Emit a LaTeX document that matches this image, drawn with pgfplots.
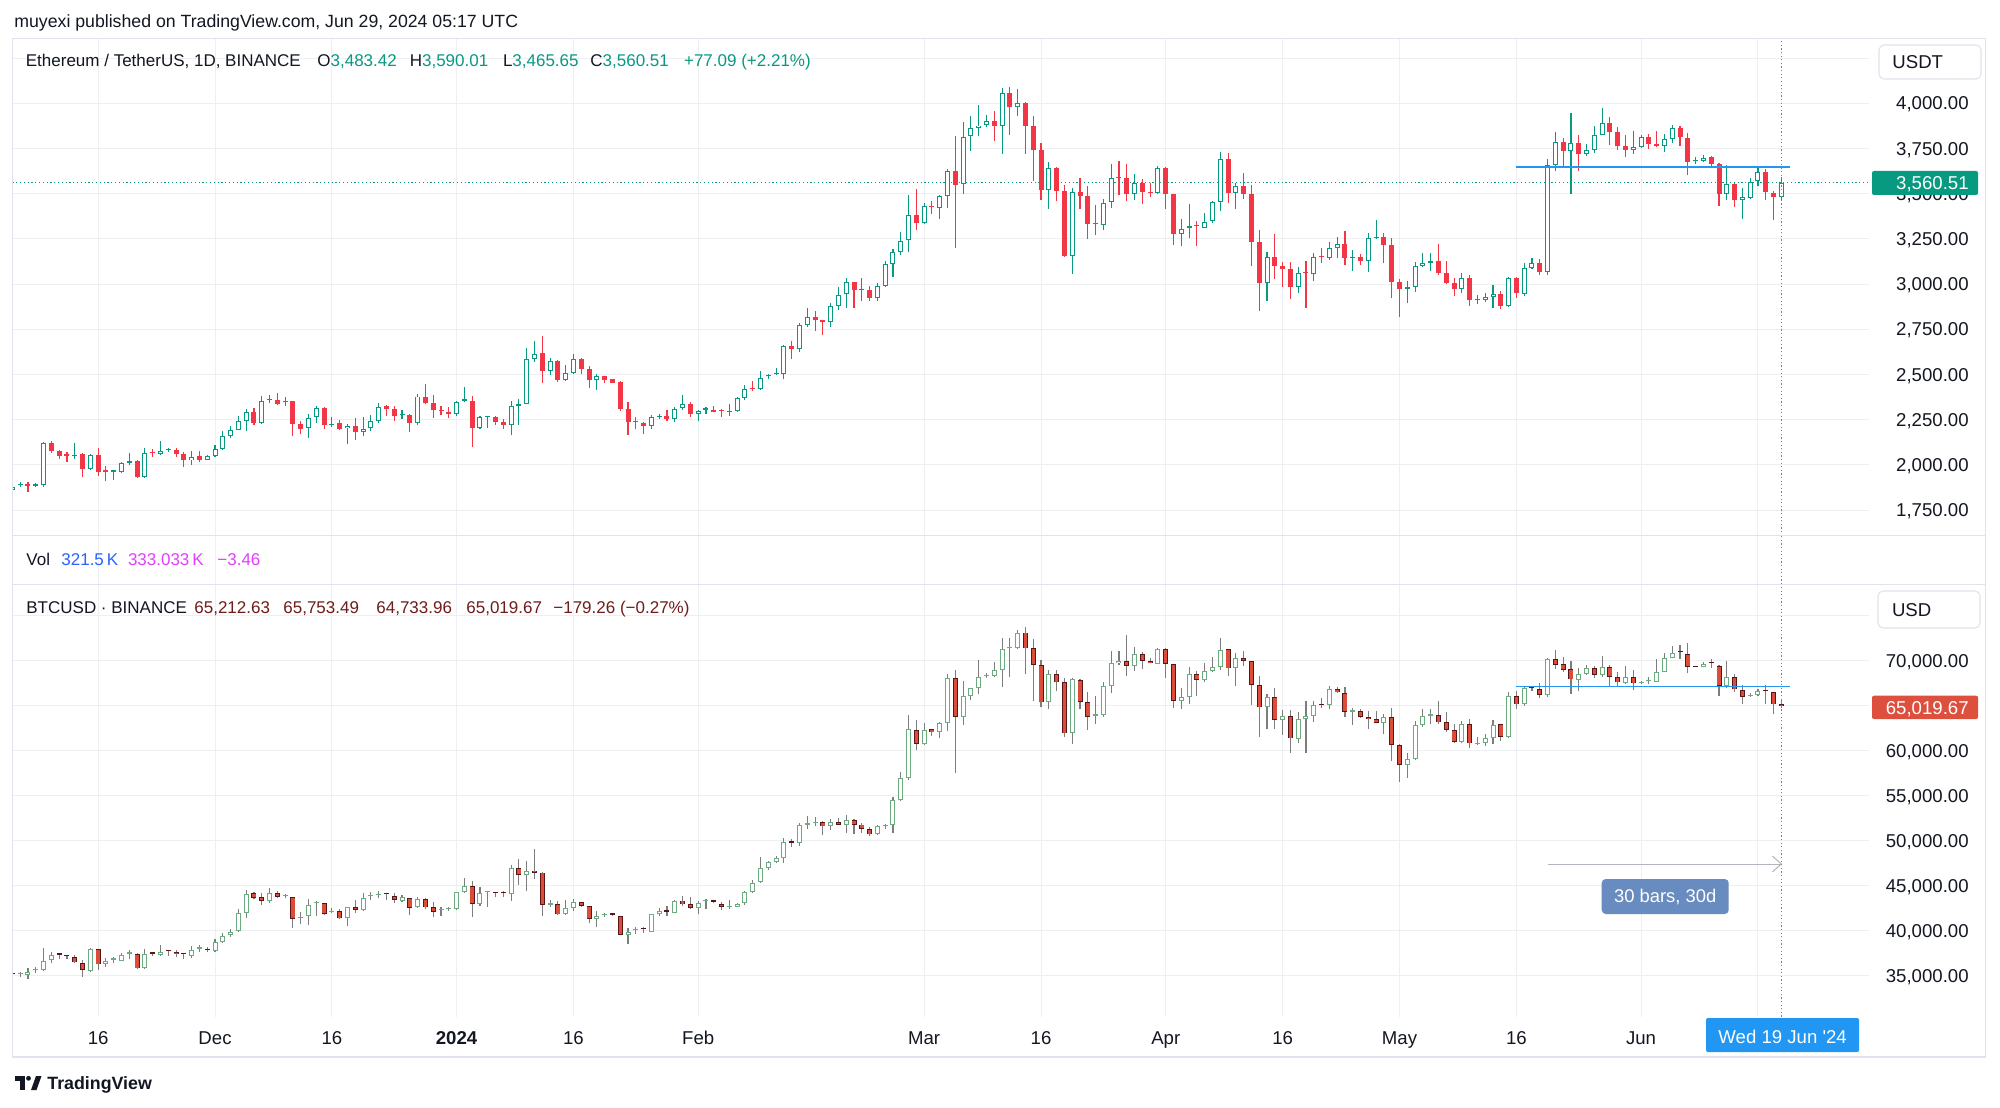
\documentclass[border=0pt]{standalone}
\usepackage{pgfplots}
\pgfplotsset{compat=1.18}
\usepackage{pgfplotstable}
\usepackage{fontspec}
\setmainfont{Liberation Sans}
\usetikzlibrary{arrows.meta}

\definecolor{tvtext}{HTML}{131722}
\definecolor{tvgrid}{RGB}{238,239,242}
\definecolor{tvframe}{RGB}{224,227,235}
\definecolor{ethup}{HTML}{089981}
\definecolor{ethdn}{HTML}{F23645}
\definecolor{btcup}{RGB}{108,172,128}
\definecolor{btcdn}{RGB}{221,76,56}
\definecolor{btcdnb}{RGB}{90,22,22}
\definecolor{btcwick}{RGB}{125,125,125}
\definecolor{tvblue}{HTML}{2196F3}
\definecolor{volblue}{HTML}{2962FF}
\definecolor{volmag}{HTML}{E040FB}
\definecolor{btchead}{RGB}{110,28,28}
\definecolor{measbox}{RGB}{104,139,192}
\definecolor{measline}{RGB}{178,181,190}
\definecolor{btclabel}{RGB}{221,80,62}

% ETH / USDT daily candles, d = days from 1 Jan 2024
\pgfplotstableread{
d O H L C
-57 1862 1885 1855 1880
-56 1888 1905 1880 1893
-55 1895 1905 1852 1885
-54 1885 1900 1875 1889
-53 1886 2125 1880 2120
-52 2120 2133 2065 2074
-51 2074 2082 2035 2050
-50 2059 2070 2015 2048
-49 2048 2120 2033 2052
-48 2059 2065 1935 1978
-47 1976 2060 1970 2055
-46 2055 2092 1941 1959
-45 1967 1991 1908 1963
-44 1963 1970 1917 1967
-43 1963 2015 1955 2009
-42 2009 2063 2000 2020
-41 2020 2025 1928 1930
-40 1930 2092 1925 2063
-39 2070 2089 2046 2063
-38 2061 2131 2055 2077
-37 2083 2092 2070 2085
-36 2083 2092 2041 2059
-35 2059 2070 1987 2024
-34 2024 2074 2000 2046
-33 2048 2074 2015 2028
-32 2028 2055 2024 2050
-31 2050 2111 2045 2087
-30 2087 2185 2083 2161
-29 2161 2216 2148 2194
-28 2194 2271 2190 2244
-27 2244 2308 2188 2290
-26 2290 2314 2221 2229
-25 2229 2382 2225 2354
-24 2358 2384 2341 2363
-23 2358 2400 2330 2336
-22 2345 2376 2323 2347
-21 2351 2355 2157 2225
-20 2225 2244 2170 2199
-19 2203 2280 2148 2258
-18 2264 2328 2231 2314
-17 2317 2320 2199 2221
-16 2221 2262 2212 2225
-15 2229 2247 2192 2197
-14 2203 2227 2116 2216
-13 2216 2258 2138 2179
-12 2181 2262 2157 2199
-11 2203 2277 2185 2240
-10 2240 2343 2231 2321
-9 2323 2332 2268 2308
-8 2308 2327 2245 2268
-7 2273 2301 2255 2277
-6 2273 2280 2183 2229
-5 2229 2391 2221 2378
-4 2378 2446 2338 2341
-3 2341 2384 2258 2301
-2 2301 2323 2273 2297
-1 2290 2320 2258 2280
0 2280 2352 2268 2349
1 2355 2432 2345 2358
2 2352 2381 2098 2206
3 2206 2270 2200 2265
4 2265 2270 2204 2270
5 2265 2268 2219 2237
6 2237 2252 2200 2219
7 2219 2354 2163 2326
8 2326 2366 2222 2335
9 2339 2644 2335 2583
10 2585 2686 2570 2614
11 2616 2714 2455 2518
12 2518 2590 2496 2575
13 2575 2580 2460 2468
14 2468 2551 2465 2509
15 2509 2612 2500 2583
16 2588 2592 2505 2529
17 2529 2548 2426 2468
18 2468 2500 2413 2489
19 2489 2492 2455 2468
20 2474 2476 2450 2453
21 2459 2463 2300 2307
22 2311 2348 2167 2237
23 2240 2263 2196 2237
24 2233 2237 2172 2215
25 2215 2274 2196 2265
26 2266 2283 2256 2268
27 2268 2305 2243 2256
28 2256 2320 2235 2311
29 2315 2385 2302 2335
30 2339 2345 2265 2283
31 2281 2306 2243 2298
32 2306 2318 2283 2311
33 2305 2326 2290 2293
34 2300 2311 2265 2298
35 2290 2335 2270 2293
36 2298 2375 2295 2370
37 2370 2440 2357 2420
38 2426 2463 2409 2418
39 2418 2520 2415 2483
40 2490 2505 2477 2492
41 2500 2537 2495 2505
42 2505 2663 2474 2659
43 2659 2686 2588 2640
44 2640 2786 2622 2773
45 2773 2866 2760 2819
46 2819 2853 2740 2801
47 2801 2801 2718 2788
48 2788 2893 2764 2879
49 2879 2984 2856 2942
50 2943 3032 2869 3010
51 3010 3014 2869 2967
52 2967 3036 2908 2971
53 2967 2991 2908 2921
54 2921 3008 2908 2991
55 2991 3125 2986 3110
56 3112 3195 3040 3176
57 3176 3287 3161 3239
58 3241 3491 3180 3380
59 3380 3526 3300 3337
60 3337 3448 3330 3430
61 3430 3458 3390 3426
62 3421 3490 3362 3487
63 3487 3638 3421 3625
64 3625 3818 3202 3550
65 3555 3895 3500 3816
66 3818 3932 3735 3862
67 3862 3991 3818 3877
68 3880 3937 3871 3901
69 3901 3959 3794 3873
70 3877 4083 3720 4057
71 4057 4092 3827 3978
72 3978 4079 3928 3999
73 3999 4009 3720 3877
74 3877 3928 3570 3739
75 3739 3779 3467 3518
76 3518 3675 3414 3641
77 3641 3645 3458 3515
78 3515 3546 3151 3154
79 3156 3531 3057 3509
80 3509 3588 3414 3487
81 3487 3540 3248 3331
82 3335 3436 3270 3333
83 3329 3469 3298 3450
84 3454 3665 3421 3586
85 3590 3678 3491 3586
86 3586 3664 3458 3500
87 3500 3610 3463 3559
88 3559 3583 3445 3509
89 3509 3561 3482 3505
90 3504 3652 3500 3641
91 3641 3645 3414 3500
92 3500 3500 3215 3276
93 3279 3362 3210 3307
94 3311 3441 3252 3322
95 3322 3349 3210 3320
96 3312 3393 3308 3344
97 3347 3458 3340 3454
98 3454 3730 3404 3691
99 3691 3726 3450 3504
100 3504 3559 3414 3542
101 3542 3614 3472 3500
102 3500 3550 3099 3233
103 3233 3301 2853 3004
104 3004 3175 2908 3151
105 3151 3279 3026 3101
106 3101 3123 2985 3083
107 3081 3123 2917 2982
108 2985 3092 2952 3062
109 3062 3127 2866 3060
110 3055 3169 3018 3151
111 3151 3197 3114 3150
112 3142 3233 3132 3200
113 3200 3261 3142 3219
114 3219 3294 3105 3142
115 3145 3191 3072 3147
116 3151 3164 3108 3129
117 3129 3283 3068 3252
118 3252 3357 3250 3255
119 3261 3285 3114 3215
120 3215 3252 2921 3013
121 3013 3026 2816 2972
122 2975 3017 2893 2980
123 2985 3123 2958 3099
124 3101 3169 3092 3118
125 3118 3173 3074 3129
126 3129 3219 3050 3062
127 3062 3129 2998 3004
128 3004 3031 2936 2972
129 2972 3059 2949 3031
130 3031 3050 2881 2912
131 2912 2939 2890 2915
132 2912 2952 2903 2926
133 2930 2994 2866 2945
134 2945 2961 2862 2881
135 2881 3040 2871 3031
136 3031 3040 2925 2949
137 2943 3119 2936 3090
138 3090 3145 3083 3119
139 3119 3138 3050 3068
140 3068 3693 3050 3656
141 3660 3840 3623 3785
142 3785 3809 3651 3735
143 3735 3947 3496 3779
144 3779 3825 3623 3720
145 3720 3776 3708 3744
146 3744 3877 3726 3825
147 3825 3972 3822 3890
148 3890 3923 3770 3840
149 3840 3868 3739 3761
150 3761 3822 3702 3743
151 3743 3845 3720 3757
152 3757 3822 3754 3812
153 3812 3831 3748 3776
154 3776 3845 3757 3761
155 3761 3831 3730 3803
156 3803 3882 3780 3862
157 3862 3873 3761 3812
158 3807 3836 3601 3675
159 3680 3702 3662 3682
160 3680 3715 3675 3698
161 3702 3708 3643 3665
162 3665 3671 3432 3496
163 3496 3656 3463 3555
164 3555 3561 3426 3463
165 3467 3531 3362 3482
166 3478 3588 3472 3564
167 3568 3647 3542 3619
168 3619 3634 3463 3509
169 3505 3513 3353 3483
170 3483.42 3590.01 3465.65 3560.51
}\ethdata

% BTC / USD daily candles
\pgfplotstableread{
d O H L C
-57 35222 35260 35100 35180
-56 35148 35370 34889 35180
-55 35074 35889 34593 35370
-54 35600 36000 35259 35630
-53 35630 38037 35519 36667
-52 36741 37593 36370 37296
-51 37370 37380 36852 37350
-50 37222 37230 36852 37200
-49 37037 37296 36370 36482
-48 36445 36741 34889 35630
-47 35519 38037 35370 37926
-46 37926 37926 35630 36259
-45 36259 36926 36000 36630
-44 36800 37111 36370 36815
-43 36667 37482 36630 37333
-42 37470 37852 36852 37482
-41 37445 37480 35800 35815
-40 35815 37926 35800 37407
-39 37482 37667 37222 37470
-38 37296 38408 37222 37667
-37 37778 37790 37222 37760
-36 37593 37852 37111 37370
-35 37407 37420 36852 37390
-34 37222 38334 36926 37815
-33 38020 38408 37593 38037
-32 37926 38150 37593 37900
-31 37778 39074 37700 38704
-30 38704 39704 38600 39445
-29 39519 40186 39334 39889
-28 39963 42408 39815 41926
-27 42000 44519 41371 44038
-26 44149 44334 43519 43667
-25 43778 44149 42853 43297
-24 43297 44779 43100 44223
-23 44149 44408 43593 43741
-22 43870 44075 43593 43890
-21 43778 43800 40260 41297
-20 41420 42038 40704 41445
-19 41630 43482 40630 42853
-18 43090 43297 41667 43112
-17 43038 43060 41741 41852
-16 42090 42556 41926 42112
-15 42186 42371 41297 41371
-14 41445 42620 40556 42593
-13 42593 43408 41926 42297
-12 42297 44223 42186 43667
-11 43830 44260 43408 43853
-10 43940 44408 43593 43964
-9 44112 44120 43408 44090
-8 43890 44223 43038 43408
-7 43334 43964 43149 43704
-6 43667 43680 41741 42556
-5 42593 43778 42482 43519
-4 43482 43667 42408 42593
-3 42593 43149 41482 42112
-2 42290 42593 41667 42408
-1 42420 42667 42186 42445
0 42408 44300 42300 44260
1 44260 45890 44150 45001
2 44981 45576 41487 42974
3 42937 44832 42788 44237
4 44300 44460 42676 44349
5 44250 44349 43717 44200
6 44237 44460 43791 44200
7 44089 47322 43345 46951
8 46951 47992 45092 46207
9 46207 47768 44423 46691
10 46691 49069 45761 46468
11 46468 46500 41673 42862
12 42900 43420 42676 42937
13 42937 43345 41800 41821
14 41821 43420 41800 42490
15 42565 43531 42193 43159
16 43159 43200 42676 42788
17 42788 42800 40818 41301
18 41301 42193 40372 41673
19 41700 41933 41561 41747
20 41830 41850 41673 41800
21 41598 41650 39500 39517
22 39517 40260 38588 39888
23 40050 40372 39591 40074
24 40160 40372 39703 40149
25 39888 41850 39850 41821
26 41821 42490 41673 42230
27 42267 42788 41673 42119
28 42007 43380 41950 43345
29 43345 43903 42788 42937
30 42937 43717 42416 42565
31 42565 43308 41859 43122
32 43290 43494 42379 43308
33 43250 43308 43048 43234
34 42974 43159 42305 42676
35 42660 43420 42416 42676
36 42676 43050 42650 43011
37 43048 44460 42865 44275
38 44349 45650 44163 45352
39 45390 48177 45278 47025
40 47025 47768 46765 47620
41 47694 48363 47508 48140
42 48140 50296 47583 49813
43 49924 50222 49293 49776
44 49776 52000 49367 51800
45 51800 52800 51300 52000
46 52000 52600 51600 52100
47 52100 52200 50600 51600
48 51600 52400 51200 52100
49 52100 52500 51700 51800
50 51800 52900 50900 52300
51 52300 52400 50800 51800
52 51800 52000 50900 51300
53 51300 51500 50500 50700
54 50700 51700 50600 51600
55 51600 51900 51300 51700
56 51700 54900 50900 54500
57 54500 57600 54400 57000
58 57000 64000 56700 62400
59 62297 63408 60074 60741
60 60704 63112 60630 62297
61 62371 62400 61667 62038
62 62038 63150 61371 63112
63 63112 68483 62186 68112
64 68112 68964 57482 63778
65 63778 67742 62853 66075
66 66075 67000 65630 66927
67 66927 70075 66260 68223
68 68300 68594 68038 68408
69 68334 69890 68149 68964
70 68964 72557 67038 71260
71 71400 72557 68149 71446
72 71372 73409 71300 73112
73 73112 73705 68520 71372
74 71372 72409 65519 69520
75 69520 70075 64816 65371
76 65371 68964 64630 68483
77 68483 68964 66631 67594
78 67594 68100 61556 61927
79 61927 68038 60741 67964
80 67853 67964 64593 65445
81 65445 66557 62297 63778
82 63900 66075 62964 63964
83 63964 67594 63778 67186
84 67186 71075 66371 69705
85 69705 71112 69520 70001
86 69964 72817 68334 69446
87 69446 71557 68890 70742
88 70742 71001 69038 69964
89 69964 70334 69705 69705
90 69631 71372 69631 71298
91 71298 71372 68038 69631
92 69631 69650 64705 65556
93 65556 66927 64630 66001
94 66001 69334 65186 68520
95 68520 68853 66075 67853
96 67853 69705 67594 68890
97 68890 70372 68800 69260
98 69260 72483 68964 71187
99 71298 71300 68334 69149
100 69149 70816 67186 70261
101 70261 71075 69446 69964
102 69964 69964 65075 67297
103 67297 68334 61556 64816
104 64816 66260 62408 65927
105 65927 67001 62408 63408
106 63408 64519 61741 63853
107 63853 64519 59778 61371
108 61297 64334 60815 63482
109 63482 65519 59704 63853
110 63853 65556 63223 65075
111 65149 65815 64705 65100
112 65075 67186 64593 66816
113 66816 67038 66371 66482
114 66371 67038 63778 64334
115 64350 64778 62853 64408
116 64408 64630 63668 63778
117 63705 64408 62408 63519
118 63482 64408 63038 63112
119 63112 64038 61815 63778
120 63778 64705 58889 60630
121 60630 60700 56556 58407
122 58407 59704 57000 59074
123 59074 63297 58963 62852
124 62852 64593 62667 63852
125 63900 64630 62926 63963
126 63963 65556 62926 63148
127 63148 64334 62111 62296
128 62296 62926 60815 61000
129 61000 63297 60815 62963
130 62963 63482 60259 60815
131 60780 61556 60630 60815
132 60815 61815 60556 61444
133 61444 63408 60741 62852
134 62926 62950 61074 61556
135 61556 66482 61370 66074
136 66074 66630 64630 65149
137 65149 67112 65000 66926
138 67050 67186 66630 67000
139 66852 67556 65889 66186
140 66186 70334 66000 70149
141 70149 71186 69075 69519
142 69593 70445 68704 68963
143 69038 70001 66260 67926
144 67852 69149 66630 68519
145 68519 69519 68408 69223
146 69223 69408 68112 68408
147 68408 70519 68222 69334
148 69334 69519 67223 68222
149 68222 68778 67112 67593
150 67556 69408 67371 68222
151 68222 68963 66741 67482
152 67482 67741 67408 67667
153 67740 68222 67408 67778
154 67667 70149 67593 68778
155 68778 70890 68704 70334
156 70334 71667 70260 70890
157 71000 71741 70186 70964
158 70705 71927 68593 69334
159 69380 69445 69260 69334
160 69334 69889 69260 69630
161 69778 70186 69223 69750
162 69408 69500 66111 67223
163 67223 70001 66926 68149
164 68149 68482 66482 66815
165 66741 67297 65149 66000
166 66100 66371 65926 66186
167 66186 66852 66111 66630
168 66667 67297 65149 66630
169 66482 66500 64074 65149
170 65212.63 65753.49 64733.96 65019.67
}\btcdata

\pgfplotsset{
  tvaxis/.style={
    scale only axis, width=927.9pt,
    xmin=-56.95, xmax=181.2,
    axis line style={draw=none}, tick style={draw=none},
    xmajorgrids, ymajorgrids,
    grid style={draw=tvgrid, line width=0.5pt},
    xtick={-46,-31,-16,0,15,31,60,75,91,106,121,136,152,167},
    xticklabels={},
    scaled y ticks=false,
    yticklabel pos=right,
    /pgf/number format/assume math mode=true,
    yticklabel style={anchor=base east, inner sep=0pt, xshift=50.2pt, yshift=-3.3pt,
      font=\fontsize{9.3}{11}\selectfont, text=tvtext,
      /pgf/number format/.cd, fixed, fixed zerofill, precision=2, 1000 sep={,}, assume math mode=true},
    extra y tick style={grid=major},
  },
  upsel/.style={restrict expr to domain={\thisrow{C}-\thisrow{O}}{0:10000000}},
  dnsel/.style={restrict expr to domain={\thisrow{C}-\thisrow{O}}{-10000000:-0.0001}},
  eb/.style 2 args={forget plot, mark=none, draw=none,
    error bars/.cd, y dir=plus, y explicit, error mark=none,
    error bar style={line width=#1, draw=#2, solid}},
}

\begin{document}
\begin{tikzpicture}[font=\fontsize{8.5}{10.2}\selectfont, text=tvtext]
\path[use as bounding box, fill=white] (0pt,0pt) rectangle (1000pt,-553.5pt);

% ---------------- ETH pane ----------------
\begin{axis}[tvaxis, at={(6.4pt,-267.85pt)}, anchor=south west, height=248.85pt,
  ymin=1608, ymax=4361, ytick={1750,2000,...,4000},
  extra y ticks={4250}, extra y tick labels={}]
\addplot[forget plot, ethup, line width=0.6pt, dash pattern=on 0.6pt off 1.3pt] coordinates {(-57,3560.51) (182,3560.51)};
% up candles
\addplot[upsel, eb={0.55pt}{ethup}] table[x=d, y=L, y error plus expr={\thisrow{H}-\thisrow{L}}] {\ethdata};
\addplot[upsel, eb={2.5pt}{ethup}] table[x=d, y=O, y error plus expr={max(\thisrow{C}-\thisrow{O},6.6)}] {\ethdata};
\addplot[upsel, eb={1.5pt}{white}] table[x=d, y expr={\thisrow{O}+5.5}, y error plus expr={max(\thisrow{C}-\thisrow{O}-11,0)}] {\ethdata};
% down candles
\addplot[dnsel, eb={0.55pt}{ethdn}] table[x=d, y=L, y error plus expr={\thisrow{H}-\thisrow{L}}] {\ethdata};
\addplot[dnsel, eb={2.5pt}{ethdn}] table[x=d, y=C, y error plus expr={max(\thisrow{O}-\thisrow{C},6.6)}] {\ethdata};
% drawing: horizontal line
\addplot[forget plot, tvblue, line width=0.65pt] coordinates {(136,3647) (171.1,3647)};
% crosshair
\addplot[forget plot, tvblue, line width=0.6pt, dash pattern=on 0.6pt off 1.2pt] coordinates {(170,1608) (170,4361)};
\end{axis}

% ---------------- Vol pane (collapsed) ----------------
\begin{axis}[tvaxis, at={(6.4pt,-292.1pt)}, anchor=south west, height=24.25pt,
  ymin=0, ymax=1, ytick=\empty, ymajorgrids=false]
\addplot[forget plot, tvblue, line width=0.6pt, dash pattern=on 0.6pt off 1.2pt] coordinates {(170,0) (170,1)};
\end{axis}

% ---------------- BTC pane ----------------
\begin{axis}[tvaxis, at={(6.4pt,-508.3pt)}, anchor=south west, height=216.2pt,
  ymin=30469, ymax=78497, ytick={35000,40000,...,70000},
  extra y ticks={75000}, extra y tick labels={},
  xticklabels={16,Dec,16,\textbf{2024},16,Feb,Mar,16,Apr,16,May,16,Jun,{}},
  xticklabel style={anchor=base, inner sep=0pt, yshift=-14.05pt, font=\fontsize{9.3}{11}\selectfont, text=tvtext}]
% up candles
\addplot[upsel, eb={0.55pt}{btcwick}] table[x=d, y=L, y error plus expr={\thisrow{H}-\thisrow{L}}] {\btcdata};
\addplot[upsel, eb={2.5pt}{btcup}] table[x=d, y=O, y error plus expr={max(\thisrow{C}-\thisrow{O},133)}] {\btcdata};
\addplot[upsel, eb={1.5pt}{white}] table[x=d, y expr={\thisrow{O}+111}, y error plus expr={max(\thisrow{C}-\thisrow{O}-222,0)}] {\btcdata};
% down candles
\addplot[dnsel, eb={0.55pt}{btcwick}] table[x=d, y=L, y error plus expr={\thisrow{H}-\thisrow{L}}] {\btcdata};
\addplot[dnsel, eb={2.5pt}{btcdnb}] table[x=d, y=C, y error plus expr={max(\thisrow{O}-\thisrow{C},133)}] {\btcdata};
\addplot[dnsel, eb={1.7pt}{btcdn}] table[x=d, y expr={\thisrow{C}+89}, y error plus expr={max(\thisrow{O}-\thisrow{C}-178,0)}] {\btcdata};
% drawing: horizontal line
\addplot[forget plot, tvblue, line width=0.65pt] coordinates {(136,67150) (171.1,67150)};
% measure arrow
\addplot[forget plot, measline, line width=0.5pt, -{Straight Barb[length=4.5pt, width=8pt, line width=0.5pt]}] coordinates {(140.1,47420) (170.1,47420)};
\node[fill=measbox, rounded corners=2pt, text=white, minimum width=63.5pt, minimum height=17.5pt,
  inner sep=0pt, font=\fontsize{9.2}{11}\selectfont] at (axis cs:155.1,43809) {30 bars, 30d};
% crosshair
\addplot[forget plot, tvblue, line width=0.6pt, dash pattern=on 0.6pt off 1.2pt] coordinates {(170,30469) (170,78497)};
\end{axis}

% ---------------- frame ----------------
\draw[tvframe, line width=0.55pt] (6.4pt,-19.15pt) rectangle (992.85pt,-528.5pt);
\draw[tvframe, line width=0.55pt] (6.4pt,-267.85pt) -- (992.85pt,-267.85pt);
\draw[tvframe, line width=0.55pt] (6.4pt,-292.1pt) -- (992.85pt,-292.1pt);

% ---------------- texts ----------------
\node[anchor=base west, inner sep=0pt, font=\fontsize{8.85}{10.6}\selectfont] at (7pt,-14pt) {muyexi published on TradingView.com, Jun 29, 2024 05:17 UTC};

\node[anchor=base west, inner sep=0pt] at (12.75pt,-33.15pt) {Ethereum / TetherUS, 1D, BINANCE};
\node[anchor=base west, inner sep=0pt] at (158.5pt,-33.15pt) {O\textcolor{ethup}{3,483.42}};
\node[anchor=base west, inner sep=0pt] at (204.7pt,-33.15pt) {H\textcolor{ethup}{3,590.01}};
\node[anchor=base west, inner sep=0pt] at (251.3pt,-33.15pt) {L\textcolor{ethup}{3,465.65}};
\node[anchor=base west, inner sep=0pt] at (295pt,-33.15pt) {C\textcolor{ethup}{3,560.51}};
\node[anchor=base west, inner sep=0pt, text=ethup] at (341.85pt,-33.15pt) {+77.09 (+2.21\%)};

\node[anchor=base west, inner sep=0pt] at (13pt,-282.5pt) {Vol};
\node[anchor=base west, inner sep=0pt, text=volblue] at (30.5pt,-282.5pt) {321.5\,K};
\node[anchor=base west, inner sep=0pt, text=volmag] at (63.8pt,-282.5pt) {333.033\,K};
\node[anchor=base west, inner sep=0pt, text=volmag] at (108.5pt,-282.5pt) {−3.46};

\node[anchor=base west, inner sep=0pt] at (13pt,-306.65pt) {BTCUSD · BINANCE};
\node[anchor=base west, inner sep=0pt, text=btchead] at (97pt,-306.65pt) {65,212.63};
\node[anchor=base west, inner sep=0pt, text=btchead] at (141.5pt,-306.65pt) {65,753.49};
\node[anchor=base west, inner sep=0pt, text=btchead] at (188pt,-306.65pt) {64,733.96};
\node[anchor=base west, inner sep=0pt, text=btchead] at (233pt,-306.65pt) {65,019.67};
\node[anchor=base west, inner sep=0pt, text=btchead] at (276.5pt,-306.65pt) {−179.26 (−0.27\%)};

% price scale boxes
\begin{scope}[font=\fontsize{9.3}{11}\selectfont]
\draw[tvframe, fill=white, line width=0.55pt, rounded corners=2.5pt] (939.5pt,-22.5pt) rectangle (990.5pt,-39.5pt);
\node[anchor=base west, inner sep=0pt] at (946pt,-34.3pt) {USDT};
\fill[ethup, rounded corners=1pt] (936pt,-85.5pt) rectangle (989pt,-97.5pt);
\node[anchor=base east, inner sep=0pt, text=white] at (984.5pt,-94.8pt) {3,560.51};
\draw[tvframe, fill=white, line width=0.55pt, rounded corners=2.5pt] (939pt,-295.5pt) rectangle (990pt,-314pt);
\node[anchor=base west, inner sep=0pt] at (945.8pt,-308pt) {USD};
\fill[btclabel, rounded corners=1pt] (936pt,-347.85pt) rectangle (989pt,-359.5pt);
\node[anchor=base east, inner sep=0pt, text=white] at (984.5pt,-357pt) {65,019.67};
% time label
\fill[tvblue, rounded corners=1pt] (853pt,-509pt) rectangle (929.5pt,-526pt);
\node[anchor=base, inner sep=0pt, text=white] at (891.3pt,-521.6pt) {Wed 19 Jun \textquotesingle 24};
\end{scope}

% TradingView logo
\begin{scope}[x=0.5pt, y=-0.5pt]
\fill[tvtext] (15,1076) rectangle (24.5,1080.5);
\fill[tvtext] (19.5,1076) rectangle (24.5,1090);
\fill[tvtext] (28.5,1078.3) circle (2.4);
\fill[tvtext] (31,1090) -- (36,1076) -- (41.5,1076) -- (36.5,1090) -- cycle;
\end{scope}
\node[anchor=base west, inner sep=0pt, font=\fontsize{8.9}{10}\selectfont\bfseries] at (23.5pt,-544.75pt) {TradingView};
\end{tikzpicture}
\end{document}
